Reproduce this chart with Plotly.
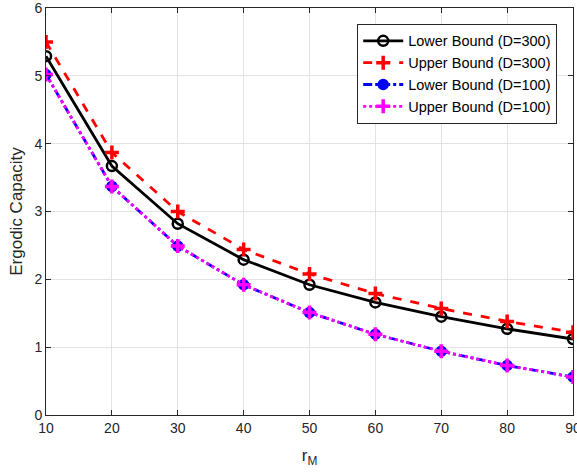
import plotly.graph_objects as go

r_M = [10, 20, 30, 40, 50, 60, 70, 80, 90]
lower_300 = [5.29, 3.67, 2.82, 2.29, 1.92, 1.66, 1.45, 1.27, 1.12]
upper_300 = [5.50, 3.87, 3.00, 2.44, 2.08, 1.79, 1.57, 1.38, 1.22]
lower_100 = [5.02, 3.37, 2.49, 1.92, 1.51, 1.19, 0.94, 0.73, 0.56]
upper_100 = [5.02, 3.37, 2.49, 1.92, 1.51, 1.19, 0.94, 0.73, 0.56]

names = ["Lower Bound (D=300)", "Upper Bound (D=300)",
         "Lower Bound (D=100)", "Upper Bound (D=100)"]

FONT = "Liberation Sans, Arial, Helvetica"

fig = go.Figure()
fig.add_trace(go.Scatter(x=r_M, y=lower_300, name=names[0], mode="lines+markers",
                         line=dict(color="black", width=2.8),
                         marker=dict(symbol="circle-open", size=10, color="black",
                                     line=dict(width=2.5, color="black"))))
fig.add_trace(go.Scatter(x=r_M, y=upper_300, name=names[1], mode="lines+markers",
                         line=dict(color="#ff0000", width=2.8, dash="dash"),
                         marker=dict(symbol="cross-thin-open", size=10, color="#ff0000",
                                     line=dict(width=3.5, color="#ff0000"))))
fig.add_trace(go.Scatter(x=r_M, y=lower_100, name=names[2], mode="lines+markers",
                         line=dict(color="#0000ff", width=2.8, dash="dashdot"),
                         marker=dict(symbol="circle", size=10, color="#0000ff",
                                     line=dict(width=1.5, color="#0000ff"))))
fig.add_trace(go.Scatter(x=r_M, y=upper_100, name=names[3], mode="lines+markers",
                         line=dict(color="#ff00ff", width=2.8, dash="dot"),
                         marker=dict(symbol="cross-thin-open", size=10, color="#ff00ff",
                                     line=dict(width=3.5, color="#ff00ff"))))

axis_common = dict(showline=True, linecolor="#262626", linewidth=1, mirror="ticks",
                   ticks="inside", ticklen=5, tickcolor="#262626",
                   showgrid=True, gridcolor="#e3e3e3", gridwidth=1, zeroline=False,
                   ticklabeloverflow="allow", automargin=False,
                   tickfont=dict(family=FONT, size=14, color="#262626"))

fig.update_xaxes(range=[10, 90], tickvals=r_M, ticktext=[str(v) for v in r_M],
                 title=dict(text="r<sub>M</sub>", font=dict(family=FONT, size=17, color="#262626"), standoff=14),
                 **axis_common)
fig.update_yaxes(range=[0, 6], tickvals=[0, 1, 2, 3, 4, 5, 6],
                 title=dict(text="Ergodic Capacity", font=dict(family=FONT, size=17, color="#262626"), standoff=7),
                 **axis_common)

fig.update_layout(
    width=577, height=475,
    margin=dict(l=46, r=4, t=8, b=60),
    plot_bgcolor="white", paper_bgcolor="white",
    font=dict(family=FONT, size=14, color="#262626"),
    legend=dict(x=0.970, y=0.961, xanchor="right", yanchor="top",
                bgcolor="white", bordercolor="#262626", borderwidth=1,
                font=dict(family=FONT, size=14.5, color="black"),
                itemwidth=40, tracegroupgap=0),
    showlegend=True,
)

fig.write_html("out.html", config={"displayModeBar": False},
               post_script="document.body.style.margin='0px';document.body.style.overflow='hidden';")
